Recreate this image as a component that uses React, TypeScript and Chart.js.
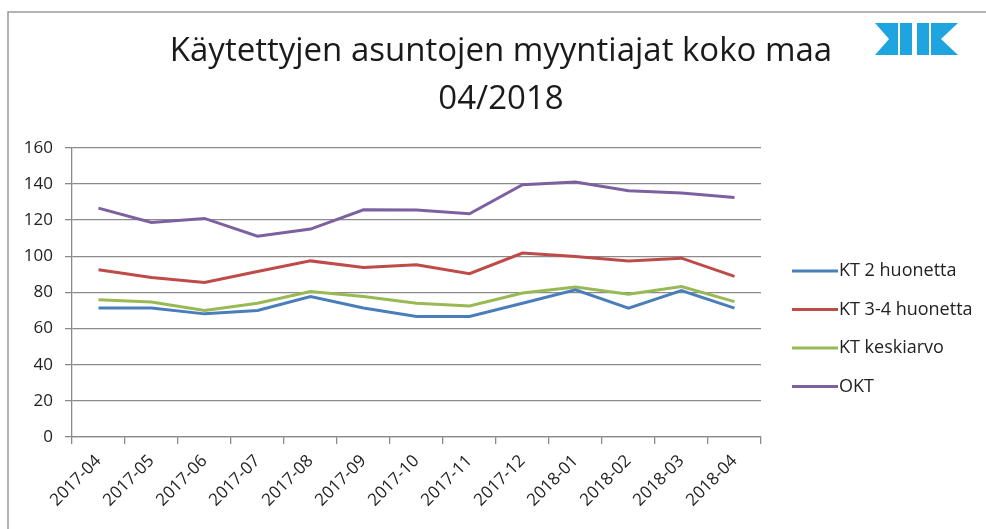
import { useEffect, useRef } from "react";
import { Chart, registerables } from "chart.js";

Chart.register(...registerables);

const titleLines = ["Käytettyjen asuntojen myyntiajat koko maa", "04/2018"];
const categories = [
  "2017-04", "2017-05", "2017-06", "2017-07", "2017-08", "2017-09", "2017-10",
  "2017-11", "2017-12", "2018-01", "2018-02", "2018-03", "2018-04",
];
const seriesLabels = ["KT 2 huonetta", "KT 3-4 huonetta", "KT keskiarvo", "OKT"];
const kt2 = [71.3, 71.3, 68.1, 70.0, 77.7, 71.3, 66.6, 66.6, 74.0, 81.4, 71.3, 81.0, 71.3];
const kt34 = [92.5, 88.2, 85.4, 91.5, 97.4, 93.8, 95.2, 90.3, 101.7, 99.8, 97.4, 98.9, 88.8];
const ktAvg = [75.9, 74.6, 70.0, 74.0, 80.5, 77.7, 74.0, 72.5, 79.6, 82.9, 79.0, 83.2, 74.9];
const okt = [126.6, 118.7, 120.9, 111.1, 115.0, 125.7, 125.5, 123.5, 139.5, 141.0, 136.2, 134.9, 132.5];
const yMin = 0;
const yMax = 160;
const yStep = 20;

const seriesColors = ["#4a7ebb", "#be4b48", "#98b954", "#7d60a0"];
const FONT = "'Open Sans', 'Liberation Sans', sans-serif";
const GRID = "#8a8a8a";
const TEXT = "#222222";

const decorPlugin = {
  id: "decor",
  beforeDraw(chart: any) {
    const ctx = chart.ctx;
    ctx.save();
    ctx.fillStyle = "#ffffff";
    ctx.fillRect(0, 0, chart.width, chart.height);
    // frame
    ctx.strokeStyle = "#9a9a9a";
    ctx.lineWidth = 1.5;
    ctx.beginPath();
    ctx.moveTo(8, chart.height);
    ctx.lineTo(8, 12);
    ctx.lineTo(chart.width, 12);
    ctx.stroke();
    // logo
    ctx.fillStyle = "#1ea4df";
    const polys = [
      [[875, 23], [898, 23], [898, 39], [889, 39]],
      [[889, 39], [898, 39], [898, 55], [875, 55]],
      [[900, 23], [912, 23], [912, 55], [900, 55]],
      [[917, 23], [929, 23], [929, 55], [917, 55]],
      [[931, 23], [958, 23], [941, 39], [931, 39]],
      [[931, 39], [941, 39], [958, 55], [931, 55]],
    ];
    for (const p of polys) {
      ctx.beginPath();
      ctx.moveTo(p[0][0], p[0][1]);
      for (let i = 1; i < p.length; i++) ctx.lineTo(p[i][0], p[i][1]);
      ctx.closePath();
      ctx.fill();
    }
    ctx.restore();
  },
  afterDraw(chart: any) {
    const ctx = chart.ctx;
    ctx.save();
    const x0 = chart.chartArea.right + 31;
    chart.data.datasets.forEach((ds: any, i: number) => {
      const y = 271 + i * 38.5;
      ctx.strokeStyle = ds.borderColor;
      ctx.lineWidth = 3;
      ctx.beginPath();
      ctx.moveTo(x0, y);
      ctx.lineTo(x0 + 46, y);
      ctx.stroke();
      ctx.fillStyle = TEXT;
      ctx.font = `18px ${FONT}`;
      ctx.textBaseline = "middle";
      ctx.textAlign = "left";
      ctx.fillText(ds.label, x0 + 47, y);
    });
    ctx.restore();
  },
};

export default function App() {
  const ref = useRef<HTMLCanvasElement | null>(null);
  useEffect(() => {
    document.body.style.margin = "0";
    const canvas = ref.current!;
    const data = [kt2, kt34, ktAvg, okt];
    const chart = new Chart(canvas, {
      type: "line",
      data: {
        labels: categories,
        datasets: data.map((d, i) => ({
          label: seriesLabels[i],
          data: d,
          borderColor: seriesColors[i],
          backgroundColor: seriesColors[i],
          borderWidth: 3,
          pointRadius: 0,
          tension: 0,
          fill: false,
        })),
      },
      options: {
        responsive: false,
        animation: false,
        devicePixelRatio: 1,
        layout: { padding: { left: 16, right: 0, top: 0, bottom: 0 } },
        plugins: {
          legend: { display: false },
          tooltip: { enabled: false },
          title: {
            display: true,
            text: titleLines,
            color: "#1a1a1a",
            font: { family: FONT, size: 33, weight: "normal", lineHeight: 1.45 },
            padding: { top: 28, bottom: 24 },
          },
        },
        scales: {
          x: {
            offset: true,
            grid: { offset: true, drawOnChartArea: false, color: GRID, tickLength: 7, lineWidth: 1.3 },
            border: { color: GRID, width: 1.3 },
            ticks: {
              color: TEXT,
              font: { family: FONT, size: 17 },
              minRotation: 45,
              maxRotation: 45,
              autoSkip: false,
              padding: 7,
            },
            afterFit(s: any) {
              s.height = 92;
            },
          },
          y: {
            min: yMin,
            max: yMax,
            grid: { color: GRID, tickLength: 7, lineWidth: 1.3 },
            border: { color: GRID, width: 1.3 },
            ticks: {
              stepSize: yStep,
              color: TEXT,
              font: { family: FONT, size: 17 },
              padding: 12,
            },
            afterFit(s: any) {
              s.width = 56;
            },
          },
          yR: {
            type: "linear",
            position: "right",
            display: true,
            grid: { display: false },
            border: { display: false },
            ticks: { display: false },
            afterFit(s: any) {
              s.width = 225;
            },
          },
        },
      },
      plugins: [decorPlugin],
    } as any);
    return () => chart.destroy();
  }, []);
  return <canvas ref={ref} width={986} height={529} style={{ display: "block", width: 986, height: 529 }} />;
}
